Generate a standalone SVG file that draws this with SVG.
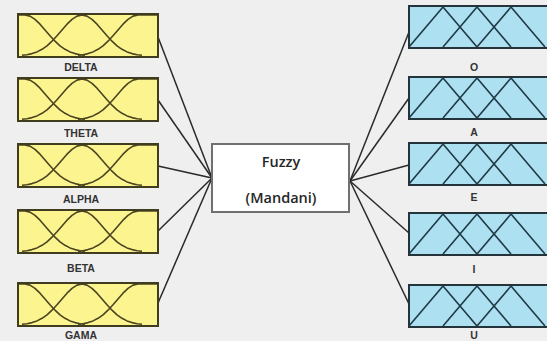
<svg xmlns="http://www.w3.org/2000/svg" xmlns:xlink="http://www.w3.org/1999/xlink" width="547" height="341" viewBox="0 0 547 341">
  <style>
    .inbox { fill: #fcf48e; stroke: #3f3c1f; stroke-width: 2; }
    .outbox { fill: #ade0f1; stroke: #25343a; stroke-width: 2; }
    .mf { fill: none; stroke: #4a4520; stroke-width: 1.6; stroke-linejoin: round; }
    .tri { fill: none; stroke: #1f3a44; stroke-width: 1.6; stroke-linejoin: round; }
    .lbl { font-family: "Liberation Sans", Arial, sans-serif; font-weight: bold; font-size: 10.5px; fill: #333333; text-anchor: middle; }
    .ctr { font-family: "Open Sans", "Liberation Sans", sans-serif; font-weight: 600; font-size: 14.5px; fill: #262626; text-anchor: middle; }
    .conn { fill: none; stroke: #2a2a2a; stroke-width: 1.5; }
  </style>
  <defs>
    <clipPath id="clipL"><rect x="0" y="0" width="140" height="43"/></clipPath>
    <clipPath id="clipR"><rect x="0" y="0" width="140" height="42"/></clipPath>
    <path id="bell" d="M-60,41.3 L-55,40.7 L-50,39.6 L-45,37.9 L-40,35.3 L-35,31.8 L-30,27.2 L-25,21.8 L-20,16 L-15,10.2 L-10,5.4 L-5,2.15 L0,1 L5,2.15 L10,5.4 L15,10.2 L20,16 L25,21.8 L30,27.2 L35,31.8 L40,35.3 L45,37.9 L50,39.6 L55,40.7 L60,41.3"/>
    <path id="zshape" d="M-60,1 L0,1 L5,2.15 L10,5.4 L15,10.2 L20,16 L25,21.8 L30,27.2 L35,31.8 L40,35.3 L45,37.9 L50,39.6 L55,40.7 L60,41.3"/>
    <g id="mfIn">
      <rect class="inbox" x="0" y="0" width="140" height="43"/>
      <g clip-path="url(#clipL)">
        <use xlink:href="#zshape" class="mf" transform="translate(7,0)"/>
        <use xlink:href="#bell" class="mf" transform="translate(64,0)"/>
        <use xlink:href="#zshape" class="mf" transform="translate(120,0) scale(-1,1)"/>
      </g>
      <rect x="0" y="0" width="140" height="43" fill="none" stroke="#3f3c1f" stroke-width="2"/>
    </g>
    <g id="mfOut">
      <rect class="outbox" x="0" y="0" width="142" height="42"/>
      <g clip-path="url(#clipR)">
        <polyline class="tri" points="0,41 34,1 68,41"/>
        <polyline class="tri" points="34,41 68,1 102,41"/>
        <polyline class="tri" points="68,41 102,1 136,41"/>
      </g>
      <rect x="0" y="0" width="142" height="42" fill="none" stroke="#25343a" stroke-width="2"/>
    </g>
  </defs>

  <rect x="0" y="0" width="547" height="341" fill="#efefef"/>

  <g id="connectors">
    <line class="conn" x1="158" y1="37" x2="212" y2="178"/>
    <line class="conn" x1="158" y1="100" x2="212" y2="178"/>
    <line class="conn" x1="158" y1="166" x2="212" y2="178"/>
    <line class="conn" x1="158" y1="231" x2="212" y2="178"/>
    <line class="conn" x1="158" y1="303" x2="212" y2="178"/>
    <line class="conn" x1="350" y1="181" x2="409" y2="32"/>
    <line class="conn" x1="350" y1="181" x2="409" y2="98"/>
    <line class="conn" x1="350" y1="181" x2="409" y2="165"/>
    <line class="conn" x1="350" y1="181" x2="409" y2="233"/>
    <line class="conn" x1="350" y1="181" x2="409" y2="304"/>
  </g>

  <g id="delta">
    <use xlink:href="#mfIn" transform="translate(18,14)"/>
    <text class="lbl" x="81" y="71">DELTA</text>
  </g>
  <g id="theta">
    <use xlink:href="#mfIn" transform="translate(18,78)"/>
    <text class="lbl" x="81" y="137">THETA</text>
  </g>
  <g id="alpha">
    <use xlink:href="#mfIn" transform="translate(18,144)"/>
    <text class="lbl" x="81" y="203">ALPHA</text>
  </g>
  <g id="beta">
    <use xlink:href="#mfIn" transform="translate(18,210)"/>
    <text class="lbl" x="81" y="272">BETA</text>
  </g>
  <g id="gama">
    <use xlink:href="#mfIn" transform="translate(18,283)"/>
    <text class="lbl" x="81" y="339">GAMA</text>
  </g>

  <g id="fuzzy">
    <rect x="212" y="144" width="137" height="68" fill="#ffffff" stroke="#707070" stroke-width="2"/>
    <text class="ctr" x="281" y="167">Fuzzy</text>
    <text class="ctr" x="281" y="203">(Mandani)</text>
  </g>

  <g id="o">
    <use xlink:href="#mfOut" transform="translate(409,6)"/>
    <text class="lbl" x="474" y="71">O</text>
  </g>
  <g id="a">
    <use xlink:href="#mfOut" transform="translate(409,77)"/>
    <text class="lbl" x="474" y="136">A</text>
  </g>
  <g id="e">
    <use xlink:href="#mfOut" transform="translate(409,143)"/>
    <text class="lbl" x="474" y="201">E</text>
  </g>
  <g id="i">
    <use xlink:href="#mfOut" transform="translate(409,213)"/>
    <text class="lbl" x="474" y="273">I</text>
  </g>
  <g id="u">
    <use xlink:href="#mfOut" transform="translate(409,285)"/>
    <text class="lbl" x="474" y="339">U</text>
  </g>
</svg>
